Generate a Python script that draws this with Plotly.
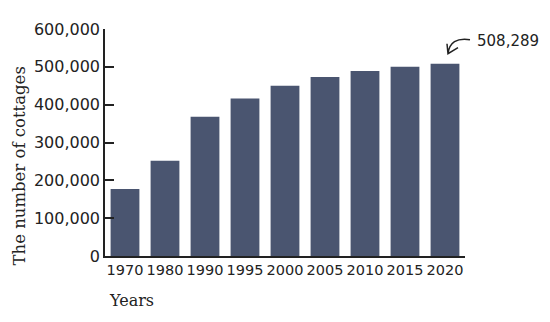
import plotly.graph_objects as go

years = ["1970", "1980", "1990", "1995", "2000", "2005", "2010", "2015", "2020"]
cottages = [177000, 252000, 368000, 416000, 450000, 473000, 489000, 500000, 508289]
y_ticks = [0, 100000, 200000, 300000, 400000, 500000, 600000]

bar_color = "#4a5570"
sans = "DejaVu Sans"
serif = "DejaVu Serif"

fig = go.Figure(go.Bar(x=years, y=cottages, marker=dict(color=bar_color, line=dict(width=0)),
                       hoverinfo="skip"))

# page body has an 8px margin, so the figure is sized 16px smaller
fig.update_layout(
    width=534, height=306,
    margin=dict(l=97, r=77, t=13, b=57.5),
    paper_bgcolor="white", plot_bgcolor="white",
    bargap=0.28, showlegend=False,
    font=dict(family=sans, size=15, color="#222222"),
)
fig.update_xaxes(
    type="category", showline=True, linecolor="#222222", linewidth=1.5,
    ticks="", showgrid=False, tickfont=dict(family=sans, size=14.5, color="#222222"),
    range=[-0.5, 8.5],
)
fig.update_yaxes(
    range=[0, 600000], tickvals=y_ticks, tickformat=",", showline=True,
    linecolor="#222222", linewidth=1.5, ticks="inside", ticklen=9, tickwidth=1.5,
    tickcolor="#222222", showgrid=False, zeroline=False,
    tickfont=dict(family=sans, size=16, color="#222222"),
)

# axis titles
fig.add_annotation(text="Years", xref="paper", yref="paper", x=0.005, y=0, xanchor="left",
                   yanchor="middle", yshift=-44, showarrow=False,
                   font=dict(family=serif, size=16, color="#222222"))
fig.add_annotation(text="The number of cottages", xref="paper", yref="paper", x=0, y=0.5,
                   xanchor="center", yanchor="middle", xshift=-86, yshift=-24, textangle=-90,
                   showarrow=False, borderpad=0,
                   font=dict(family=serif, size=16.5, color="#222222"))

# callout on the last bar
last_x = (len(years) - 0.5) / len(years)
fig.add_annotation(text=f"{cottages[-1]:,}", x=last_x, y=cottages[-1], xref="paper", yref="y",
                   xanchor="left", yanchor="middle", xshift=30, yshift=23, showarrow=False,
                   font=dict(family=sans, size=15, color="#222222"))
fig.add_shape(type="path", xref="paper", yref="y", xsizemode="pixel", ysizemode="pixel",
              xanchor=last_x, yanchor=cottages[-1],
              path="M 25,24 Q 5,27 3,10 M 2,20 L 3,10 L 13,16",
              line=dict(color="#222222", width=1.5))

fig.write_html("out.html")
